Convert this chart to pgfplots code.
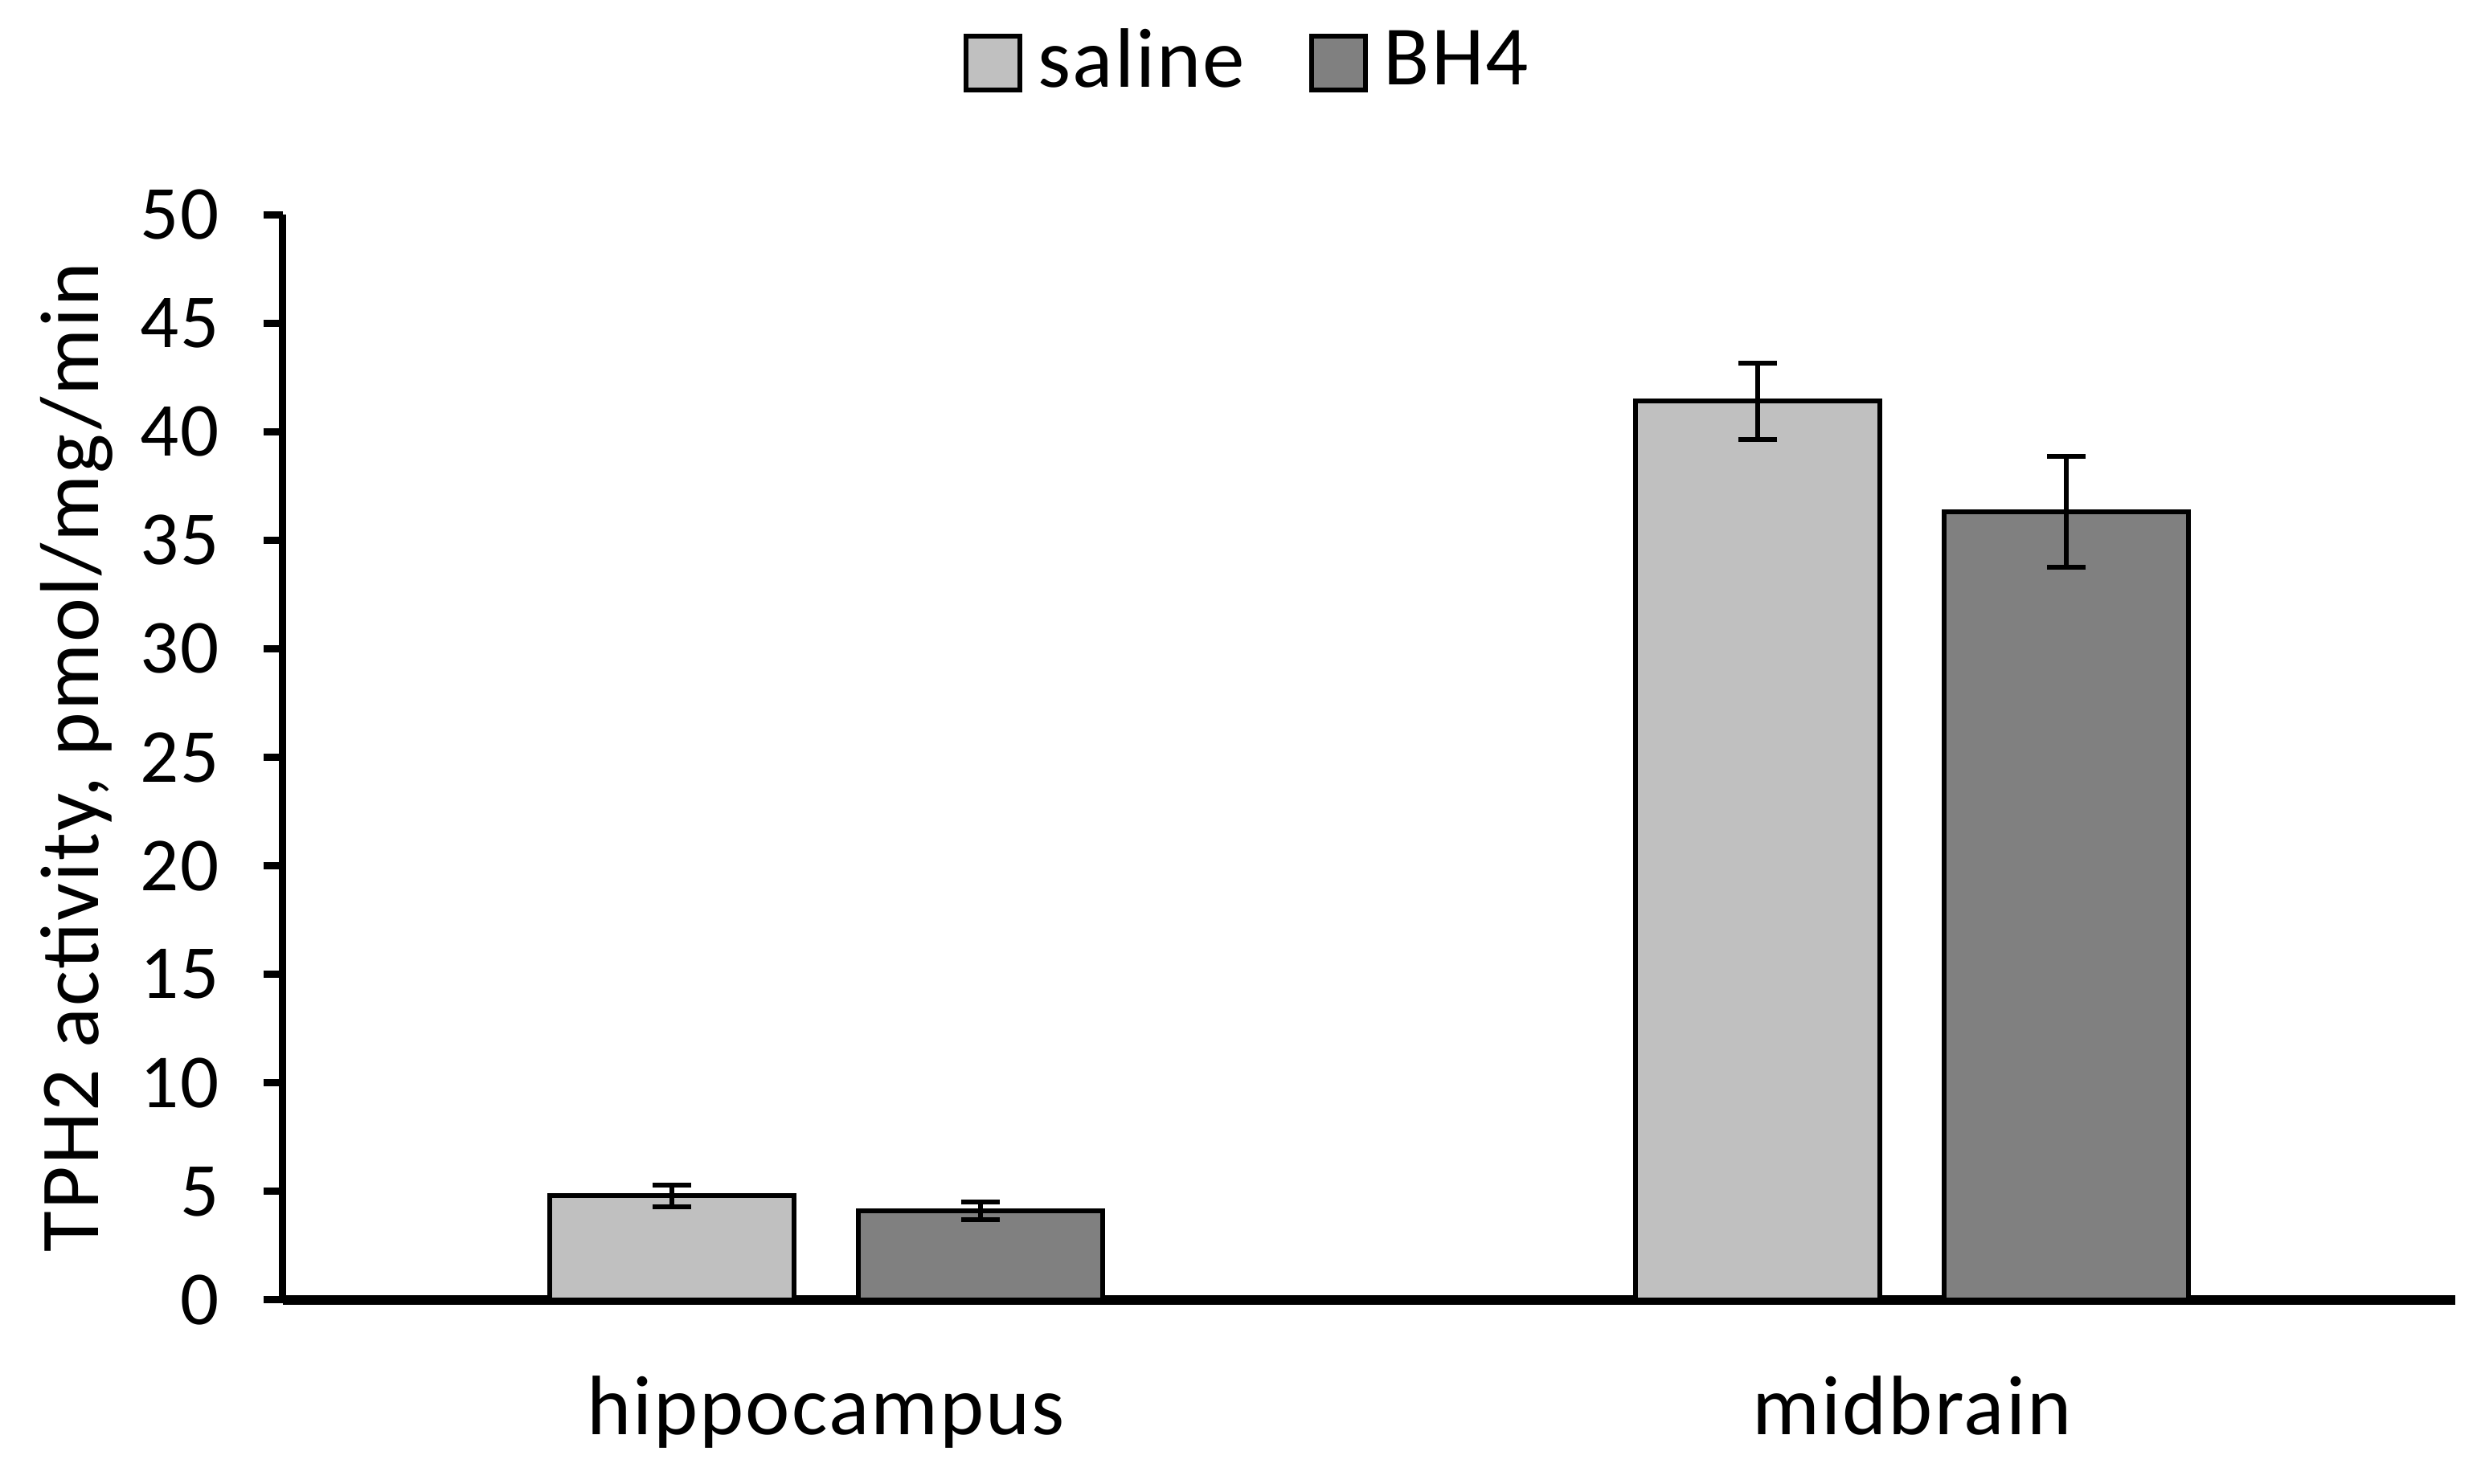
\documentclass[border=0pt]{standalone}
\usepackage{pgfplots}
\pgfplotsset{compat=1.18}
\usepackage{fontspec}
\setmainfont{Carlito}[LetterSpace=2]
\definecolor{salinec}{HTML}{C0C0C0}
\definecolor{bhc}{HTML}{808080}
\begin{document}
\begin{tikzpicture}
\useasboundingbox (-35.2pt,-22.9pt) rectangle (273.5pt,161.8pt);
\begin{axis}[
  scale only axis,
  width=270.3pt, height=135.1pt,
  xmin=-0.5, xmax=1.5,
  ymin=0, ymax=50,
  ytick={0,5,...,50},
  xtick={0,1},
  xticklabels={hippocampus, midbrain},
  major x tick style={draw=none},
  tick align=outside,
  major tick length=2.4pt,
  y tick style={black, line width=0.9pt},
  axis x line*=bottom,
  axis y line*=left,
  x axis line style={line width=1.2pt, -},
  y axis line style={line width=0.9pt, -},
  /pgf/number format/assume math mode=true,
  yticklabel style={font=\fontsize{9.5}{10}\selectfont, xshift=-2pt},
  xticklabel style={font=\fontsize{10.5}{12}\selectfont, yshift=-3.5pt},
  ylabel={TPH2 activity, pmol/mg/min},
  ylabel style={font=\fontsize{10.4}{12}\selectfont, at={(axis description cs:-0.0951,0.5)}, anchor=center},
  ybar, bar width=0.225, bar shift=0pt,
  error bars/y dir=both, error bars/y explicit,
  error bars/error bar style={line width=0.6pt, black},
  error bars/error mark options={rotate=90, mark size=2.4pt, line width=0.6pt, black},
  legend style={at={(0.447,1.139)}, anchor=center, draw=none, fill=none,
    legend columns=2, font=\fontsize{10.5}{12}\selectfont,
    /tikz/every even column/.append style={column sep=6pt},
    nodes={inner xsep=2pt}},
  legend image code/.code={\draw[#1, line width=0.6pt] (0pt,-3.3pt) rectangle (6.7pt,3.4pt);},
]
\addplot[fill=salinec, draw=black, line width=0.6pt] coordinates {
  (-0.142,4.8) +- (0,0.5)
  (0.858,41.4) +- (0,1.75)
};
\addlegendentry{saline}
\addplot[fill=bhc, draw=black, line width=0.6pt] coordinates {
  (0.142,4.1) +- (0,0.4)
  (1.142,36.3) +- (0,2.55)
};
\addlegendentry{BH4}
\end{axis}
\end{tikzpicture}
\end{document}
